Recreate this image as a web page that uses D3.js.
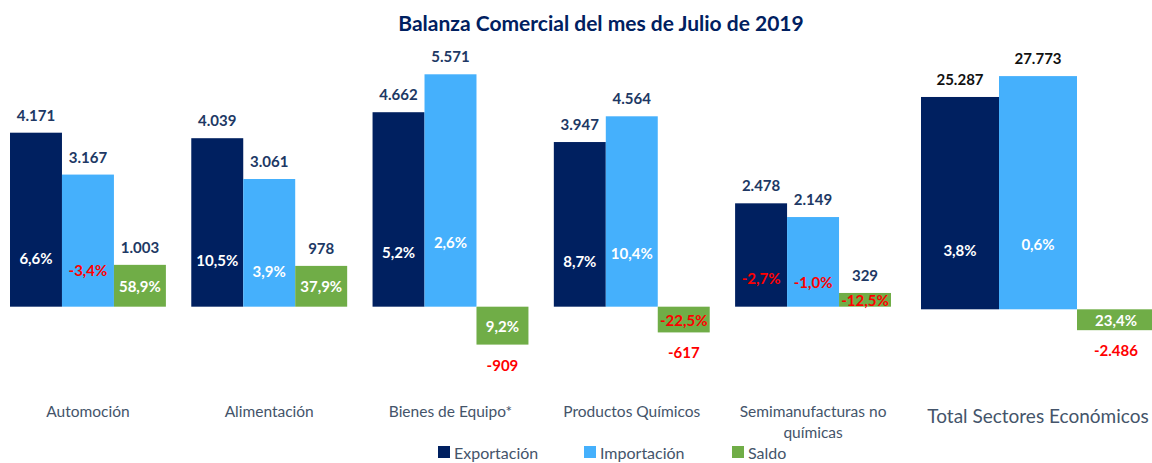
<!DOCTYPE html>
<html>
<head>
<meta charset="utf-8">
<script src="https://cdn.jsdelivr.net/npm/d3@7"></script>
<style>
  body { margin: 0; background: #fff; }
  svg { display: block; font-family: Lato, "Open Sans", sans-serif; }
</style>
</head>
<body>
<div id="container"></div>
<script>
// ---------------- data ----------------
const categories = ["Automoción", "Alimentación", "Bienes de Equipo*", "Productos Químicos", "Semimanufacturas no químicas"];
const series = ["Exportación", "Importación", "Saldo"];
const exportacion = [4171, 4039, 4662, 3947, 2478];
const importacion = [3167, 3061, 5571, 4564, 2149];
const saldo = [1003, 978, -909, -617, 329];
const exportVar = [6.6, 10.5, 5.2, 8.7, -2.7];
const importVar = [-3.4, 3.9, 2.6, 10.4, -1.0];
const saldoVar = [58.9, 37.9, 9.2, -22.5, -12.5];

const totalLabel = "Total Sectores Económicos";
const totalValues = [25287, 27773, -2486];
const totalVar = [3.8, 0.6, 23.4];

const title = "Balanza Comercial del mes de Julio de 2019";

// ---------------- setup ----------------
const width = 1152, height = 463;
const colors = { "Exportación": "#002060", "Importación": "#45B0FC", "Saldo": "#70AD47" };
const navy = "#203864", red = "#FF0000", slate = "#44546A";

const fmtNum = v => d3.format(",")(v).replace(/,/g, ".").replace("−", "-");
const fmtPct = v => v.toFixed(1).replace(".", ",") + "%";

const svg = d3.select("#container").append("svg")
    .attr("width", width).attr("height", height);

svg.append("text")
    .attr("x", 601).attr("y", 22)
    .attr("text-anchor", "middle").attr("dominant-baseline", "central")
    .style("font-size", "21px").style("font-weight", "bold")
    .attr("fill", "#002060")
    .text(title);

// ---------------- scales ----------------
const x0 = d3.scaleBand().domain(categories).range([10, 891]).paddingInner(0.14).paddingOuter(0);
const x1 = d3.scaleBand().domain(series).range([0, x0.bandwidth()]);
const y = d3.scaleLinear().domain([-1000, 6000]).range([348.4, 56.4]);

const xT = d3.scaleBand().domain(series).range([921, 1155]);
const yT = d3.scaleLinear().domain([-3000, 30000]).range([334.5, 57.4]);

const rows = categories.map((c, i) => ({
  cat: c,
  vals: [
    { s: "Exportación", v: exportacion[i], p: exportVar[i] },
    { s: "Importación", v: importacion[i], p: importVar[i] },
    { s: "Saldo", v: saldo[i], p: saldoVar[i] }
  ]
}));

function drawBars(g, data, xs, ys, posColor) {
  const bw = xs.bandwidth();
  g.selectAll("rect").data(data).join("rect")
    .attr("x", d => xs(d.s))
    .attr("y", d => ys(Math.max(0, d.v)))
    .attr("width", bw)
    .attr("height", d => Math.abs(ys(d.v) - ys(0)))
    .attr("fill", d => colors[d.s]);

  // value labels
  g.selectAll("text.val").data(data).join("text")
    .attr("class", "val")
    .attr("x", d => xs(d.s) + bw / 2)
    .attr("y", d => d.v >= 0 ? ys(d.v) - 18 : ys(d.v) + 20)
    .attr("text-anchor", "middle").attr("dominant-baseline", "central")
    .style("font-size", "15px").style("font-weight", "bold")
    .attr("fill", d => d.v < 0 ? red : posColor)
    .text(d => fmtNum(d.v));

  // percent labels inside bars
  g.selectAll("text.pct").data(data).join("text")
    .attr("class", "pct")
    .attr("x", d => xs(d.s) + bw / 2)
    .attr("y", d => d.s === "Saldo" ? ys(d.v / 2) : ys(d.v * 0.28))
    .attr("text-anchor", "middle").attr("dominant-baseline", "central")
    .style("font-size", "15px").style("font-weight", "bold")
    .attr("fill", d => d.p < 0 ? red : "#fff")
    .text(d => fmtPct(d.p));
}

// ---------------- left groups ----------------
const groups = svg.selectAll("g.grp").data(rows).join("g")
    .attr("class", "grp")
    .attr("transform", d => "translate(" + x0(d.cat) + ",0)");
groups.each(function(d) { drawBars(d3.select(this), d.vals, x1, y, navy); });

// category labels
const catLab = svg.selectAll("text.cat").data(categories).join("text")
    .attr("class", "cat")
    .attr("x", d => x0(d) + x0.bandwidth() / 2)
    .attr("y", 411)
    .attr("text-anchor", "middle").attr("dominant-baseline", "central")
    .style("font-size", "15.5px")
    .attr("fill", slate);
catLab.each(function(d) {
  const t = d3.select(this);
  const words = d === "Semimanufacturas no químicas" ? ["Semimanufacturas no", "químicas"] : [d];
  words.forEach((w, i) => {
    t.append("tspan").attr("x", x0(d) + x0.bandwidth() / 2).attr("dy", i ? 21 : 0).text(w);
  });
});

// ---------------- total group ----------------
const totalData = series.map((s, i) => ({ s: s, v: totalValues[i], p: totalVar[i] }));
drawBars(svg.append("g").attr("class", "total"), totalData, xT, yT, "#111");

svg.append("text")
    .attr("x", 1038).attr("y", 415)
    .attr("text-anchor", "middle").attr("dominant-baseline", "central")
    .style("font-size", "19px")
    .attr("fill", slate)
    .text(totalLabel);

// ---------------- legend ----------------
const legendX = [438, 584, 732];
const legend = svg.selectAll("g.leg").data(series).join("g")
    .attr("class", "leg")
    .attr("transform", (d, i) => "translate(" + legendX[i] + ",452)");
legend.append("rect").attr("x", 0).attr("y", -6).attr("width", 12).attr("height", 12)
    .attr("fill", d => colors[d]);
legend.append("text").attr("x", 16).attr("y", 0)
    .attr("dominant-baseline", "central")
    .style("font-size", "16px")
    .attr("fill", slate)
    .text(d => d);
</script>
</body>
</html>
